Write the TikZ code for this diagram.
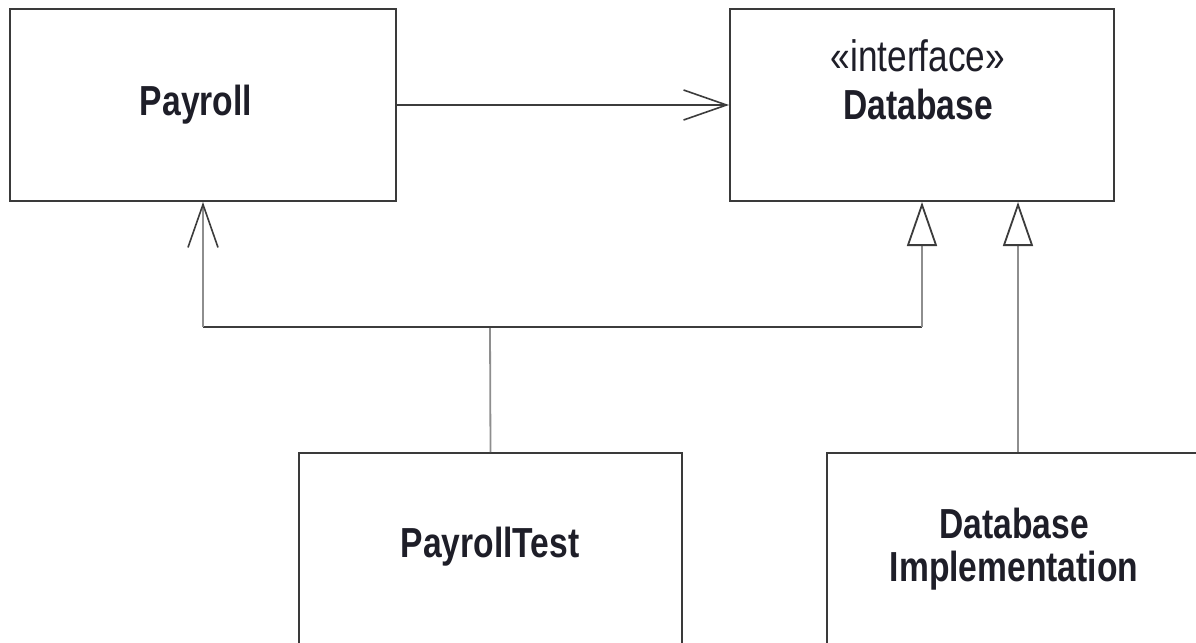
\documentclass[tikz,border=0pt]{standalone}
\usepackage{fontspec}
\setmainfont{Liberation Sans}[FakeStretch=0.8]
\usetikzlibrary{arrows.meta}
\definecolor{boxc}{HTML}{3A3A3A}
\definecolor{linec}{HTML}{3C3C3C}
\definecolor{greyc}{HTML}{8E8E8E}
\definecolor{txtc}{HTML}{1E1E28}
\begin{document}
\begin{tikzpicture}[x=0.5pt,y=-0.5pt,
  umlbox/.style={draw=boxc, line width=1pt, inner sep=0pt, fill=white},
  lbl/.style={text=txtc, font=\fontsize{21}{21.5}\selectfont\bfseries, align=center, inner sep=0pt},
  assoc/.style={draw=linec, line width=0.8pt, -{Straight Barb[length=21.5pt, width=15pt, line width=0.8pt]}},
  realize/.style={line width=0.8pt, -{Triangle[open, length=22pt, width=15pt, line width=0.9pt, color=linec, fill=white]}},
  plain/.style={draw=linec, line width=0.8pt},
  greyline/.style={draw=greyc, line width=0.9pt}]
\clip (0,0) rectangle (1196,643);
\fill[white] (0,0) rectangle (1196,643);
% boxes
\node[umlbox, minimum width=193pt, minimum height=96pt] (payroll) at (203,105) {};
\node[umlbox, minimum width=192pt, minimum height=96pt] (db) at (922,105) {};
\node[umlbox, minimum width=191.5pt, minimum height=120pt] (ptest) at (490.5,573) {};
\node[umlbox, minimum width=191pt, minimum height=120pt] (impl) at (1018,573) {};
% texts
\node[lbl] (payrolltext) at (196,105) {Payroll};
\node[lbl, font=\fontsize{21}{24}\selectfont] (dbtext) at (918,80) {{\mdseries\fontsize{22}{24}\selectfont «interface»}\\\bfseries Database};
\node[lbl] (ptesttext) at (490,547) {PayrollTest};
\node[lbl] (impltext) at (1014,549) {Database\\Implementation};
% connectors
\coordinate (junction) at (490,327);
\coordinate (jl) at (payroll.south |- junction);
\coordinate (jr) at (db.south |- junction);
\draw[assoc] (payroll.east) -- (db.west);
\draw[greyline] (ptest.north) -- (junction);
\draw[plain] (jl) -- (jr);
\draw[greyline, -{Straight Barb[length=21.5pt, width=15pt, line width=0.8pt, color=linec]}] (jl) -- (payroll.south);
\draw[greyline, realize] (jr) -- (db.south);
\draw[greyline, realize] (impl.north) -- (impl.north |- db.south);
\end{tikzpicture}
\end{document}
